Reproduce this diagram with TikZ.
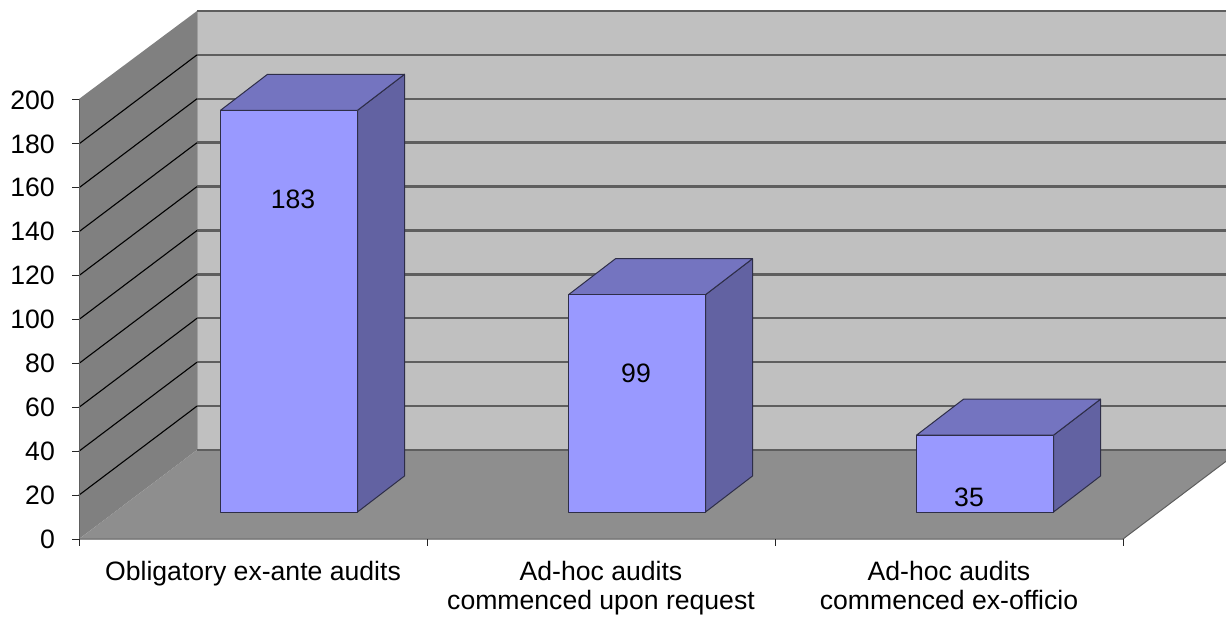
\documentclass[tikz,border=0pt]{standalone}
\usepackage{fontspec}
\setmainfont{Liberation Sans}
\definecolor{backwall}{HTML}{C0C0C0}
\definecolor{sidewall}{HTML}{808080}
\definecolor{floorc}{HTML}{8E8E8E}
\definecolor{gridc}{HTML}{5E5E5E}
\definecolor{barfront}{HTML}{9999FF}
\definecolor{bartop}{HTML}{7474C0}
\definecolor{barside}{HTML}{6262A2}
\definecolor{barline}{HTML}{2E2E48}
\tikzset{
  lbl/.style={inner sep=0pt, font=\fontsize{26.6}{30}\selectfont},
  ylbl/.style={lbl, anchor=east},
  clbl/.style={lbl, anchor=base},
  backgrid/.style={gridc, line width=2.4pt},
  sidegrid/.style={black, line width=1.1pt},
  barface/.style={draw=barline, line width=1pt, line join=round},
  tickc/.style={black!85, line width=1pt}
}
\begin{document}
\begin{tikzpicture}[x=1pt,y=-1pt]
\useasboundingbox (0,0) rectangle (1226,617);
% walls
\fill[backwall] (197,11) rectangle (1226,450);
\fill[sidewall] (79,539) -- (79,99) -- (197,11) -- (197,450) -- cycle;
\fill[floorc] (79,539) -- (197,450) -- (1226,450) -- (1226,461.3) -- (1123,539) -- cycle;
\draw[gridc, line width=1pt] (79,539) -- (1123,539) -- (1226,461.3);
\draw[gridc!60, line width=0.8pt] (197,11) -- (197,450);
% gridlines
\foreach \v in {0,20,...,200}{
  \pgfmathsetmacro{\yb}{450-2.195*\v}
  \draw[backgrid] (197,\yb) -- (1226,\yb);
}
\foreach \v in {20,40,...,180}{
  \pgfmathsetmacro{\yf}{539-2.195*\v}
  \pgfmathsetmacro{\yb}{450-2.195*\v}
  \draw[sidegrid] (79,\yf) -- (197,\yb);
}
% axes
\coordinate (ybot) at (79,539);
\coordinate (ytop) at (79,99);
\draw[gridc, line width=1pt] (ybot) -- (ytop);
\foreach \v in {0,20,...,200}{
  \pgfmathsetmacro{\yf}{539-2.195*\v}
  \coordinate (t\v) at (79,\yf);
  \draw[tickc] (72,\yf) -- (t\v);
  \node[ylbl] (yl\v) at (55,\yf) {\v};
}
\foreach \x in {79,427,775,1123}{
  \coordinate (xt\x) at (\x,539);
  \draw[tickc] (xt\x) -- ++(0,7);
}
% bars
\foreach \cx/\val/\nm in {289/183/a,637/99/b,985/35/c}{
  \pgfmathsetmacro{\xl}{\cx-68.5}
  \pgfmathsetmacro{\xr}{\cx+68.5}
  \pgfmathsetmacro{\yt}{512-2.195*\val}
  \coordinate (\nm fl) at (\xl,512);
  \coordinate (\nm fr) at (\xr,512);
  \coordinate (\nm tl) at (\xl,\yt);
  \coordinate (\nm tr) at (\xr,\yt);
  \draw[barface, fill=barside] (\nm fr) -- (\nm tr) -- ++(47,-36) -- ([shift={(47,-36)}]\nm fr) -- cycle;
  \draw[barface, fill=bartop] (\nm tl) -- (\nm tr) -- ++(47,-36) -- ([shift={(47,-36)}]\nm tl) -- cycle;
  \draw[barface, fill=barfront] (\nm fl) rectangle (\nm tr);
}
% value labels
\node[lbl] (v1) at (293,199) {183};
\node[lbl] (v2) at (636,373) {99};
\node[lbl] (v3) at (969,497) {35};
% category labels
\node[clbl] (c1) at (253,580) {Obligatory ex-ante audits};
\node[clbl] (c2a) at (601,580) {Ad-hoc audits};
\node[clbl] (c2b) at (601,609) {commenced upon request};
\node[clbl] (c3a) at (949,580) {Ad-hoc audits};
\node[clbl] (c3b) at (949,609) {commenced ex-officio};
\end{tikzpicture}
\end{document}
